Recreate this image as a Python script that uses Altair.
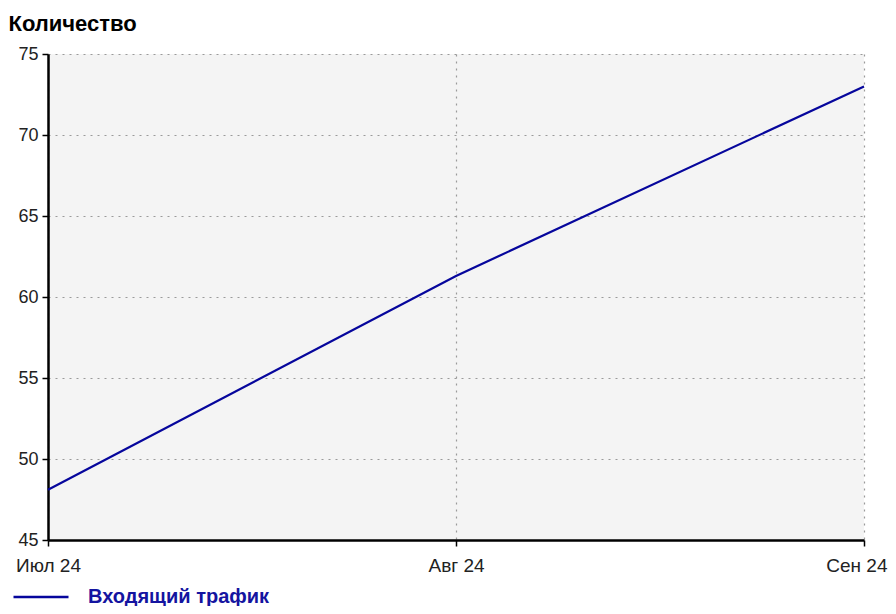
import altair as alt
import pandas as pd

months = ["Июл 24", "Авг 24", "Сен 24"]
values = [48.1, 61.3, 73.0]
series = ["Входящий трафик"] * 3

df = pd.DataFrame({"month": months, "value": values, "series": series})

last_label = "datum.label == 'Сен 24'"

chart = alt.Chart(df).mark_line(strokeWidth=2.2).encode(
    x=alt.X("month:O", sort=months, scale=alt.Scale(type="point", padding=0),
            axis=alt.Axis(title=None, labelAngle=0, grid=True, gridDash=[2, 5],
                          gridColor="#9a9a9a", gridWidth=1.2, domainColor="#000000",
                          domainWidth=2.5, tickColor="#000000", tickSize=6, tickWidth=1.5,
                          labelFontSize=19, labelColor="#222222", labelPadding=10,
                          labelAlign={"condition": {"test": last_label, "value": "right"}, "value": "center"},
                          labelOffset={"condition": {"test": last_label, "value": 23}, "value": 0},
                          labelFont="Liberation Sans")),
    y=alt.Y("value:Q", scale=alt.Scale(domain=[45, 75], nice=False, zero=False),
            axis=alt.Axis(values=[45, 50, 55, 60, 65, 70, 75], grid=True, gridDash=[2, 5],
                          gridColor="#9a9a9a", gridWidth=1.2, domainColor="#000000",
                          domainWidth=2.5, tickColor="#000000", tickSize=6, tickWidth=1.5,
                          labelFontSize=18, labelColor="#222222", labelPadding=4,
                          labelFont="Liberation Sans",
                          title="Количество", titleAngle=0, titleAlign="left",
                          titleBaseline="alphabetic", titleX=-40, titleY=-24,
                          titleFontSize=22, titleFontWeight="bold", titleColor="#000000",
                          titleFont="Liberation Sans")),
    color=alt.Color("series:N", scale=alt.Scale(domain=["Входящий трафик"], range=["#06069c"]),
                    legend=alt.Legend(title=None, orient="none", legendX=-36, legendY=514,
                                      symbolType="stroke", symbolSize=3025, symbolStrokeWidth=2.5,
                                      labelFontSize=20, labelFontWeight="bold", labelLimit=400,
                                      labelColor="#1414a0", labelOffset=18,
                                      labelFont="Liberation Sans")),
).properties(
    width=816, height=486,
    padding={"left": 40, "top": 46, "right": 24, "bottom": 66},
    autosize=alt.AutoSizeParams(type="none"),
).configure_view(fill="#f4f4f4", stroke=None)

chart.save("out.html", embed_options={"renderer": "svg", "actions": False})
